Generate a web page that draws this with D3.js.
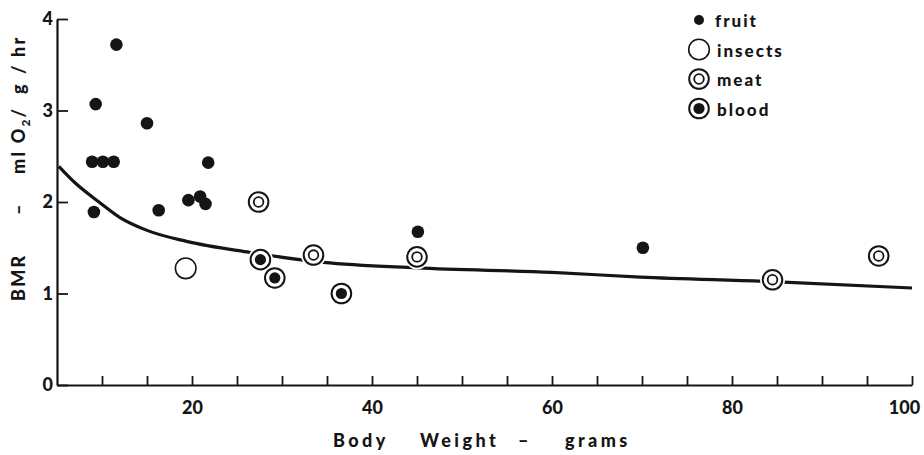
<!DOCTYPE html>
<html>
<head>
<meta charset="utf-8">
<script src="https://cdn.jsdelivr.net/npm/d3@7"></script>
<style>
  body { margin: 0; background: #fff; }
  text { font-family: "Lato", "DejaVu Sans", sans-serif; font-weight: 900; fill: #151515; }
</style>
</head>
<body>
<div id="chart"></div>
<script>
// points: body weight (g), BMR (ml O2/g/hr)
var fruitW = [11.6, 9.3, 15.0, 8.9, 10.1, 11.3, 21.8, 19.6, 20.9, 21.5, 16.3, 9.1, 45.1, 70.1];
var fruitB = [3.72, 3.07, 2.86, 2.44, 2.44, 2.44, 2.43, 2.02, 2.06, 1.98, 1.91, 1.89, 1.675, 1.50];

var insectW = [19.3];
var insectB = [1.275];

var meatW = [27.4, 33.5, 45.0, 84.5, 96.3];
var meatB = [2.00, 1.42, 1.40, 1.15, 1.41];

var bloodW = [27.6, 29.2, 36.6];
var bloodB = [1.37, 1.17, 1.00];

// fitted curve as drawn
var curveW = [5.2, 7, 9.8, 12, 15, 19.4, 26.4, 34.6, 45, 60, 69.8, 84.5, 100];
var curveB = [2.39, 2.21, 1.99, 1.83, 1.69, 1.57, 1.45, 1.34, 1.28, 1.23, 1.18, 1.13, 1.06];

var xTicks = d3.range(10, 101, 5);
var yTicks = [0, 1, 2, 3, 4];
var legendNames = ["fruit", "insects", "meat", "blood"];

var width = 924, height = 455;
var ink = "#151515";

var svg = d3.select("#chart").append("svg")
    .attr("width", width)
    .attr("height", height)
    .style("background", "#fff");

var x = d3.scaleLinear().domain([5, 100]).range([57, 912]);
var y = d3.scaleLinear().domain([0, 4]).range([385, 19]);

// axes
var xAxis = d3.axisBottom(x)
    .tickValues(xTicks)
    .tickSize(-9)
    .tickSizeOuter(0)
    .tickPadding(16)
    .tickFormat(function(d) { return d % 20 === 0 ? d : ""; });

var gx = svg.append("g")
    .attr("transform", "translate(0," + y(0) + ")")
    .call(xAxis);

// last label sits a bit left of its tick in the original
gx.selectAll(".tick text").filter(function(d) { return d === 100; }).attr("dx", -8);

var yAxis = d3.axisLeft(y)
    .tickValues(yTicks)
    .tickSize(-11)
    .tickSizeOuter(0)
    .tickPadding(4)
    .tickFormat(d3.format("d"));

var gy = svg.append("g")
    .attr("transform", "translate(" + x(5) + ",0)")
    .call(yAxis);

[gx, gy].forEach(function(g) {
  g.select(".domain").attr("stroke", ink).attr("stroke-width", 2.2);
  g.selectAll(".tick line").attr("stroke", ink).attr("stroke-width", 1.8);
  g.selectAll(".tick text").style("font-size", "18px").attr("fill", ink);
});

// curve
var line = d3.line()
    .x(function(d) { return x(d[0]); })
    .y(function(d) { return y(d[1]); })
    .curve(d3.curveMonotoneX);

svg.append("path")
    .datum(d3.zip(curveW, curveB))
    .attr("d", line)
    .attr("fill", "none")
    .attr("stroke", ink)
    .attr("stroke-width", 3.2);

// marker drawing
function drawMarker(g, kind) {
  if (kind === "fruit") {
    g.append("circle").attr("r", 6.3).attr("fill", ink);
  } else if (kind === "insects") {
    g.append("circle").attr("r", 12.5).attr("fill", "#fff");
    g.append("circle").attr("r", 10.3).attr("fill", "#fff")
      .attr("stroke", ink).attr("stroke-width", 1.6);
  } else if (kind === "meat") {
    g.append("circle").attr("r", 12.5).attr("fill", "#fff");
    g.append("circle").attr("r", 9.8).attr("fill", "#fff")
      .attr("stroke", ink).attr("stroke-width", 2);
    g.append("circle").attr("r", 4.8).attr("fill", "none")
      .attr("stroke", ink).attr("stroke-width", 1.8);
  } else {
    g.append("circle").attr("r", 12.5).attr("fill", "#fff");
    g.append("circle").attr("r", 9.8).attr("fill", "#fff")
      .attr("stroke", ink).attr("stroke-width", 2);
    g.append("circle").attr("r", 5.6).attr("fill", ink);
  }
}

var groups = [
  { kind: "insects", w: insectW, b: insectB },
  { kind: "meat", w: meatW, b: meatB },
  { kind: "blood", w: bloodW, b: bloodB },
  { kind: "fruit", w: fruitW, b: fruitB }
];

groups.forEach(function(grp) {
  svg.append("g").selectAll("g")
      .data(d3.zip(grp.w, grp.b))
    .enter().append("g")
      .attr("transform", function(d) { return "translate(" + x(d[0]) + "," + y(d[1]) + ")"; })
      .each(function() { drawMarker(d3.select(this), grp.kind); });
});

// legend
var legend = svg.append("g").attr("transform", "translate(699,20)");
legendNames.forEach(function(name, i) {
  var row = legend.append("g").attr("transform", "translate(0," + (i * 29.5) + ")");
  if (name === "fruit") {
    row.append("circle").attr("r", 5).attr("fill", ink);
  } else {
    drawMarker(row, name);
  }
  row.append("text")
    .attr("x", name === "fruit" ? 16 : 18)
    .attr("y", 7)
    .style("font-size", "17px")
    .style("letter-spacing", "2px")
    .text(name);
});

// axis titles, word by word as spaced in the original
var xTitle = [["Body", 333], ["Weight", 420], ["\u2013", 518], ["grams", 565]];
xTitle.forEach(function(p) {
  svg.append("text")
    .attr("x", p[1])
    .attr("y", 447)
    .style("font-size", "18px")
    .style("letter-spacing", "3.4px")
    .text(p[0]);
});

var yTitle = [["BMR", 301], ["\u2013", 215], ["ml O", 174], ["g", 94], ["/", 74], ["hr", 57]];
yTitle.forEach(function(p) {
  var t = svg.append("text")
    .attr("transform", "translate(25," + p[1] + ") rotate(-90)")
    .style("font-size", "18px")
    .style("letter-spacing", "2.2px")
    .text(p[0]);
  if (p[0] === "ml O") {
    t.append("tspan").attr("dy", 5).style("font-size", "12px").text("2");
    t.append("tspan").attr("dy", -5).text("/");
  }
});
</script>
</body>
</html>
